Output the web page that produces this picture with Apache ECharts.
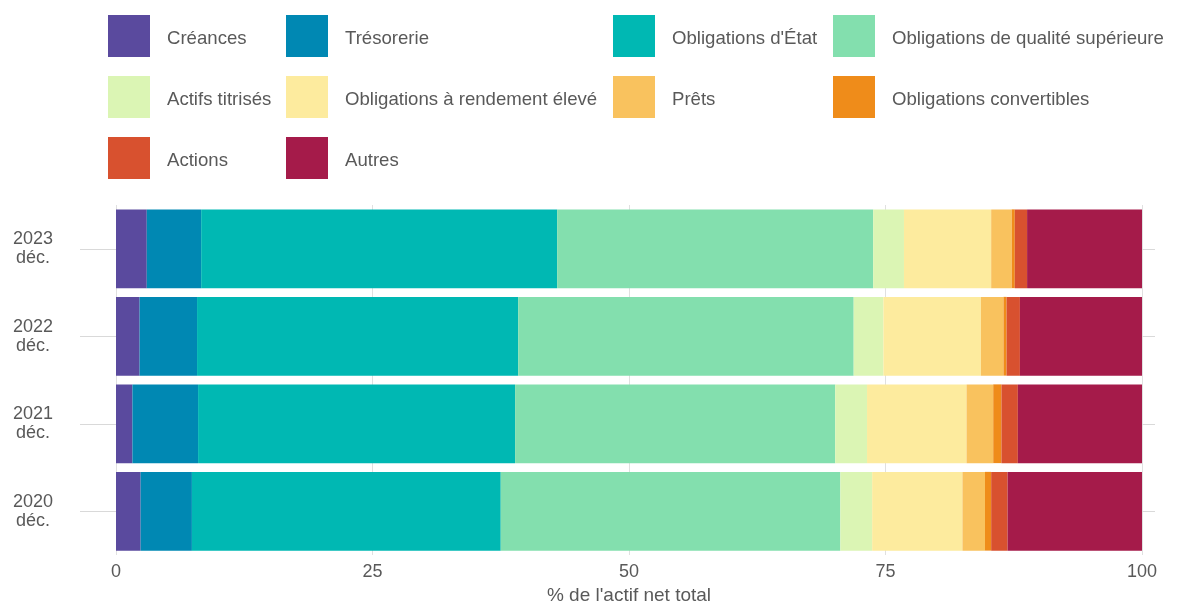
<!DOCTYPE html>
<html>
<head>
<meta charset="utf-8">
<script src="https://cdn.jsdelivr.net/npm/echarts@6/dist/echarts.min.js"></script>
<style>html,body{margin:0;padding:0;background:#fff;overflow:hidden}#c{width:1182px;height:602px}</style>
</head>
<body>
<div id="c"></div>
<script>
const categories = ['2023\ndéc.', '2022\ndéc.', '2021\ndéc.', '2020\ndéc.'];
const seriesNames = ['Créances', 'Trésorerie', "Obligations d'État", 'Obligations de qualité supérieure',
  'Actifs titrisés', 'Obligations à rendement élevé', 'Prêts', 'Obligations convertibles', 'Actions', 'Autres'];
const colors = ['#5A4A9E', '#0088B3', '#00B8B3', '#83DFAE', '#DBF5B4', '#FDEB9E', '#F9C25E', '#EF8C1A', '#D8512F', '#A51B4A'];
// values per series, order matches categories (2023, 2022, 2021, 2020)
const creances = [3.0, 2.3, 1.6, 2.4];
const tresorerie = [5.3, 5.6, 6.4, 5.0];
const oblEtat = [34.7, 31.3, 30.9, 30.1];
const oblQualite = [30.8, 32.7, 31.2, 33.1];
const actifsTitrises = [3.0, 2.9, 3.1, 3.1];
const oblRendement = [8.5, 9.5, 9.7, 8.8];
const prets = [2.0, 2.2, 2.6, 2.2];
const oblConvertibles = [0.3, 0.3, 0.8, 0.6];
const actions = [1.2, 1.3, 1.6, 1.6];
const autres = [11.2, 11.9, 12.2, 13.2];
const xTicks = [0, 25, 50, 75, 100];

const values = [creances, tresorerie, oblEtat, oblQualite, actifsTitrises, oblRendement, prets, oblConvertibles, actions, autres];
const legendCols = [
  [0, 4, 8], [1, 5, 9], [2, 6], [3, 7]
];
const legendLeft = [103, 281, 608, 828];
const txt = '#595959';
const font = 'Liberation Sans, Arial, sans-serif';

const chart = echarts.init(document.getElementById('c'));
chart.setOption({
  animation: false,
  color: colors,
  textStyle: { fontFamily: font },
  legend: legendCols.map((col, i) => ({
    orient: 'vertical',
    left: legendLeft[i],
    top: 10,
    itemWidth: 42,
    itemHeight: 42,
    itemGap: 19,
    icon: 'rect',
    selectedMode: false,
    data: col.map(k => seriesNames[k]),
    formatter: n => '{t|' + n + '}',
    textStyle: {
      color: txt, fontSize: 18.6, fontFamily: font, padding: [0, 0, 0, 12],
      rich: { t: { color: txt, fontSize: 18.6, fontFamily: font, padding: [5, 0, 0, 0] } }
    }
  })),
  grid: { left: 116, right: 40, top: 205, bottom: 47, containLabel: false, outerBoundsMode: 'none' },
  xAxis: {
    type: 'value', min: 0, max: 100, interval: 25,
    axisLine: { show: false }, axisTick: { show: false },
    splitLine: { show: true, lineStyle: { color: '#e0e0e0', width: 1 } },
    axisLabel: { color: txt, fontSize: 18, margin: 8, formatter: v => xTicks.includes(v) ? String(v) : '' },
    name: "% de l'actif net total", nameLocation: 'middle', nameGap: 27,
    nameTextStyle: { color: txt, fontSize: 19 }
  },
  yAxis: [{
    type: 'category', data: categories, inverse: true,
    axisLine: { show: false },
    axisTick: { show: true, alignWithLabel: true, length: 36, lineStyle: { color: '#d9d9d9' } },
    axisLabel: { color: txt, fontSize: 18, lineHeight: 19, align: 'center', margin: 83 },
    splitLine: { show: false }
  }, {
    type: 'category', data: categories, inverse: true, position: 'right',
    axisLine: { show: false },
    axisTick: { show: true, alignWithLabel: true, length: 13, lineStyle: { color: '#d9d9d9' } },
    axisLabel: { show: false }
  }],
  series: seriesNames.map((n, i) => ({
    name: n, type: 'bar', stack: 'total', data: values[i],
    barCategoryGap: '10%',
    itemStyle: { color: colors[i] }
  }))
});
</script>
</body>
</html>
